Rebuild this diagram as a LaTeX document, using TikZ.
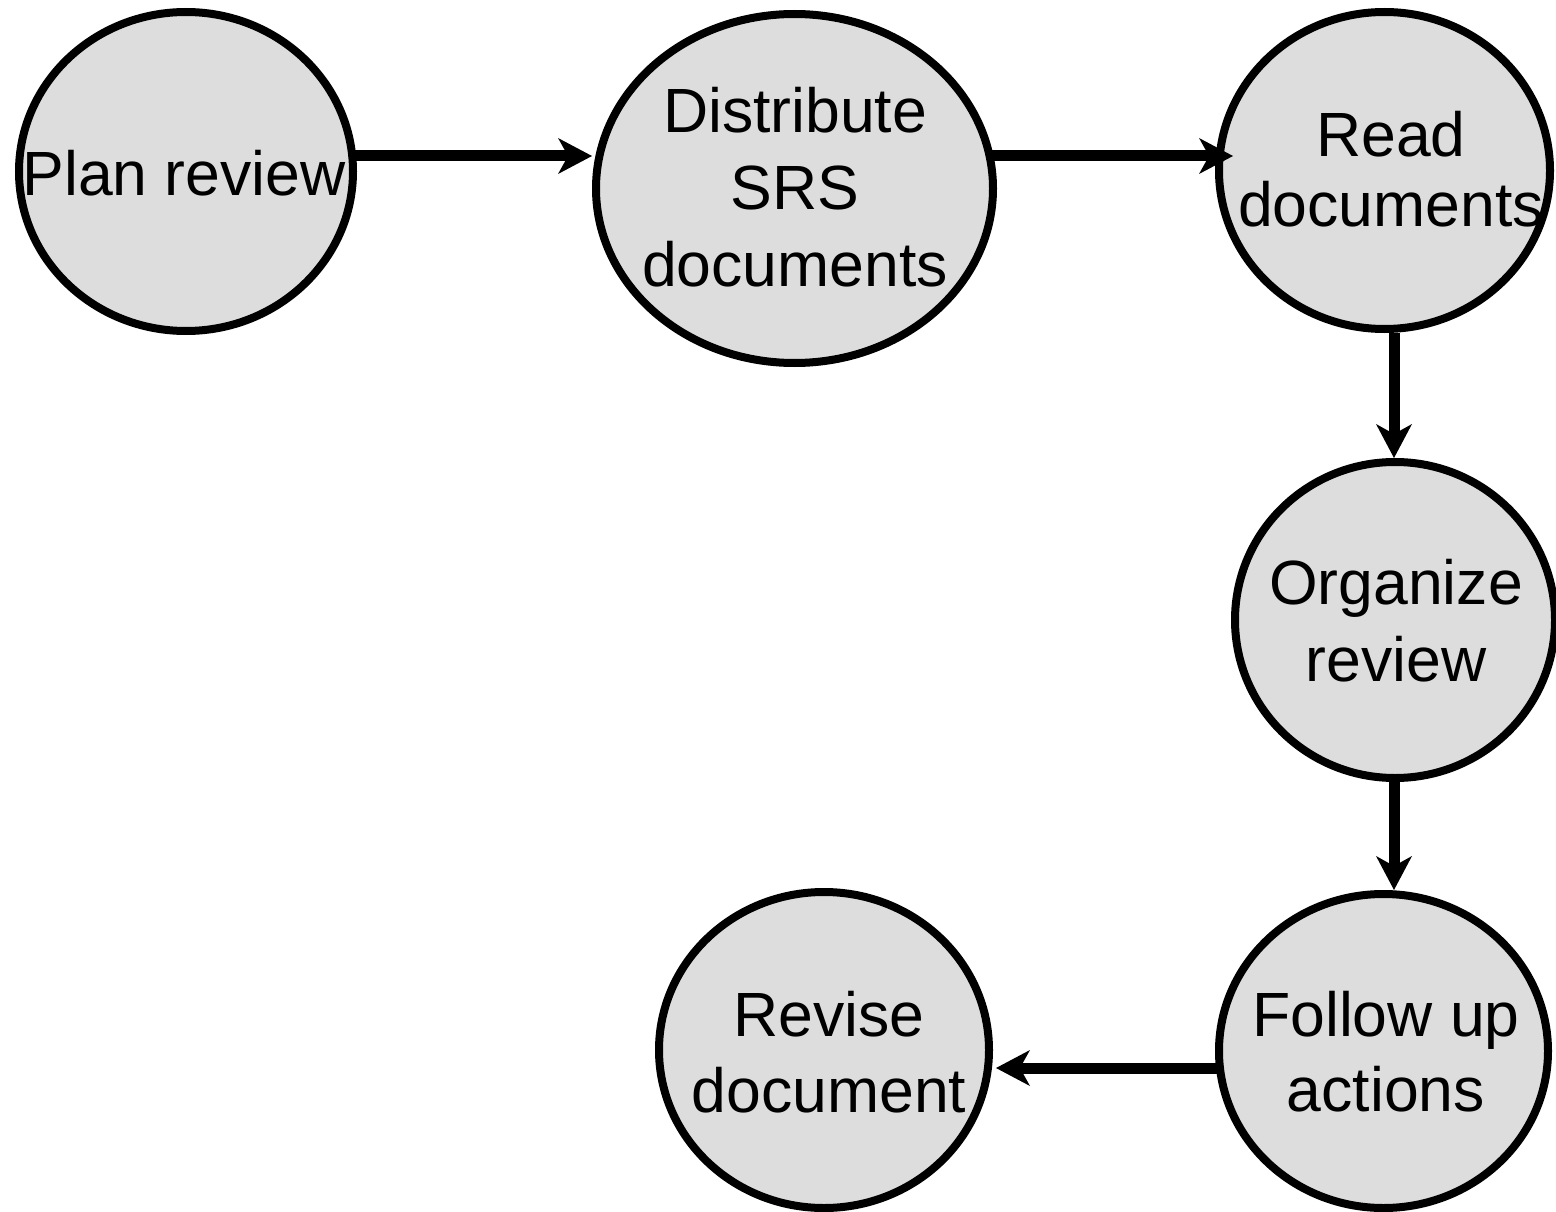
\documentclass[tikz,border=0pt]{standalone}
\usepackage{fontspec}
\setmainfont{Liberation Sans}
\usetikzlibrary{arrows.meta,shapes.geometric}
\definecolor{nodefill}{RGB}{221,221,221}
\tikzset{
  blob/.style={ellipse, draw=black, line width=8pt, fill=nodefill, inner sep=0pt},
  lbl/.style={font=\fontsize{62.5}{#1}\selectfont, align=center, inner sep=0pt},
  lbl/.default=76,
  arr/.style={line width=11pt, -{Stealth[length=34pt,width=36pt,inset=10pt,line width=0pt]}}
}
\begin{document}
\begin{tikzpicture}[x=1pt,y=-1pt]
\useasboundingbox (0,0) rectangle (1556,1212);
% ellipses
\node[blob, minimum width=334pt, minimum height=319pt] (plan) at (186,171.5) {};
\node[blob, minimum width=397pt, minimum height=349pt] (dist) at (794.5,188.5) {};
\node[blob, minimum width=331pt, minimum height=317pt] (read) at (1384.5,170.5) {};
\node[blob, minimum width=320pt, minimum height=316pt] (org) at (1395,620) {};
\node[blob, minimum width=329pt, minimum height=314pt] (follow) at (1383.5,1051) {};
\node[blob, minimum width=330pt, minimum height=316pt] (revise) at (824,1050) {};
% texts
\node[lbl] (planT) at (184,173.5) {Plan review};
\node[lbl=77] (distT) at (795,187) {Distribute\\SRS\\documents};
\node[lbl=70] (readT) at (1391,169) {Read\\documents};
\node[lbl=77] (orgT) at (1396,620.5) {Organize\\review};
\node[lbl=75] (followT) at (1386,1051.5) {Follow up\\actions};
\node[lbl=76] (reviseT) at (829,1052) {Revise\\document};
% levels for connectors
\coordinate (lvl1) at (0,156);
\coordinate (lvl2) at (0,1068);
\coordinate (col) at (1394,0);
\coordinate (a1s) at (plan.east |- lvl1);
\coordinate (a1e) at (dist.west |- lvl1);
\coordinate (a2s) at (dist.east |- lvl1);
\coordinate (a2e) at (read.west |- lvl1);
\coordinate (a5s) at (follow.west |- lvl2);
\coordinate (a5e) at (revise.east |- lvl2);
% connectors
\draw[arr] ([xshift=-3pt]a1s) -- (a1e);
\draw[arr] ([xshift=-5pt]a2s) -- ([xshift=18pt]a2e);
\draw[arr] (read.south -| col) -- (org.north -| col);
\draw[arr] (org.south -| col) -- (follow.north -| col);
\draw[arr] ([xshift=3pt]a5s) -- ([xshift=3pt]a5e);
\end{tikzpicture}
\end{document}
